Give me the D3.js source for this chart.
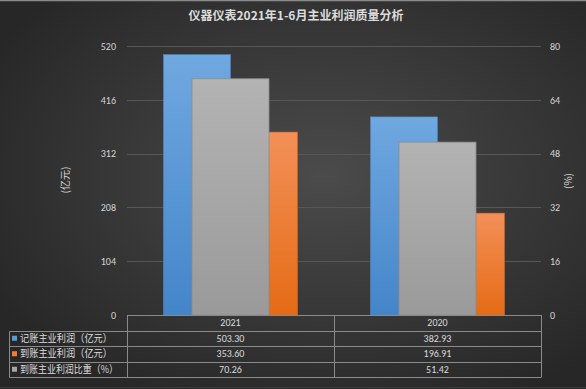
<!DOCTYPE html>
<html>
<head>
<meta charset="utf-8">
<script src="https://cdn.jsdelivr.net/npm/d3@7"></script>
<style>
  html, body { margin: 0; padding: 0; background: #2a2a2a; }
  svg { display: block; font-family: "Noto Sans CJK SC", "Noto Sans", sans-serif; }
</style>
</head>
<body>
<script>
// chart values
var title = "仪器仪表2021年1-6月主业利润质量分析";
var years = ["2021", "2020"];
var booked = [503.30, 382.93];     // 记账主业利润（亿元）
var received = [353.60, 196.91];   // 到账主业利润（亿元）
var ratio = [70.26, 51.42];        // 到账主业利润比重（%）
var leftTicks = [0, 104, 208, 312, 416, 520];
var rightTicks = [0, 16, 32, 48, 64, 80];
var seriesNames = ["记账主业利润（亿元）", "到账主业利润（亿元）", "到账主业利润比重（%）"];
var seriesColors = ["#5b9bd5", "#ed7d31", "#a5a5a5"];

var W = 586, H = 389;
var plot = { left: 127, right: 541, top: 46, bottom: 315 };

var svg = d3.select("body").append("svg")
    .attr("width", W)
    .attr("height", H);

var defs = svg.append("defs");

// background: dark with lighter middle
var bg = defs.append("radialGradient").attr("id", "bg")
    .attr("cx", "55%").attr("cy", "45%").attr("r", "65%");
bg.append("stop").attr("offset", "0%").attr("stop-color", "#4b4b4b");
bg.append("stop").attr("offset", "100%").attr("stop-color", "#272727");

function barGradient(id, top, bottom) {
    var g = defs.append("linearGradient").attr("id", id)
        .attr("x1", 0).attr("y1", 0).attr("x2", 0).attr("y2", 1);
    g.append("stop").attr("offset", "0%").attr("stop-color", top);
    g.append("stop").attr("offset", "100%").attr("stop-color", bottom);
}
barGradient("gBlue", "#70a8e0", "#4485c9");
barGradient("gOrange", "#f39058", "#e56b15");
barGradient("gGray", "#b3b3b3", "#9a9a9a");

svg.append("rect")
    .attr("width", W).attr("height", H)
    .attr("fill", "url(#bg)");
svg.append("line")
    .attr("x1", 0).attr("x2", W).attr("y1", 0.5).attr("y2", 0.5)
    .attr("stroke", "#8a8a8a").attr("stroke-width", 1.5);
svg.append("line")
    .attr("x1", 0).attr("x2", W).attr("y1", H - 1.5).attr("y2", H - 1.5)
    .attr("stroke", "#3c3c3c").attr("stroke-width", 1);

// scales
var x = d3.scaleBand().domain(years).range([plot.left, plot.right]);
var yL = d3.scaleLinear().domain([0, 520]).range([plot.bottom, plot.top]);
var yR = d3.scaleLinear().domain([0, 80]).range([plot.bottom, plot.top]);

var xPrimary = d3.scaleBand().domain(["booked", "received"])
    .range([0, x.bandwidth()]).paddingOuter(0.545);
var xSecondary = d3.scaleBand().domain(["ratio"])
    .range([0, x.bandwidth()]).paddingOuter(0.844);

// gridlines
svg.append("g")
    .selectAll("line")
    .data(leftTicks.slice(1))
    .join("line")
    .attr("x1", plot.left).attr("x2", plot.right)
    .attr("y1", function(d) { return Math.round(yL(d)) + 0.5; })
    .attr("y2", function(d) { return Math.round(yL(d)) + 0.5; })
    .attr("stroke", "#575757").attr("stroke-width", 1);

// axes
var axisL = svg.append("g")
    .attr("transform", "translate(" + (plot.left - 11) + ",0)")
    .call(d3.axisLeft(yL).tickValues(leftTicks).tickSize(0).tickPadding(0));
var axisR = svg.append("g")
    .attr("transform", "translate(" + (plot.right + 9) + ",0)")
    .call(d3.axisRight(yR).tickValues(rightTicks).tickSize(0).tickPadding(0));
[axisL, axisR].forEach(function(a) {
    a.select(".domain").remove();
    a.selectAll("text")
        .attr("fill", "#d4d4d4")
        .style("font-size", "10px")
        .style("font-family", "Carlito, 'Liberation Sans', sans-serif");
});

// primary bars
var primary = [
    { key: "booked", values: booked, fill: "url(#gBlue)", stroke: "#4a88c8" },
    { key: "received", values: received, fill: "url(#gOrange)", stroke: "#d9661a" }
];
primary.forEach(function(s) {
    svg.append("g")
        .selectAll("rect")
        .data(years)
        .join("rect")
        .attr("x", function(d) { return x(d) + xPrimary(s.key); })
        .attr("width", xPrimary.bandwidth())
        .attr("y", function(d, i) { return yL(s.values[i]); })
        .attr("height", function(d, i) { return yL(0) - yL(s.values[i]); })
        .attr("fill", s.fill)
        .attr("stroke", s.stroke).attr("stroke-width", 0.6);
});

// secondary bars, on top
svg.append("g")
    .selectAll("rect")
    .data(years)
    .join("rect")
    .attr("x", function(d) { return x(d) + xSecondary("ratio"); })
    .attr("width", xSecondary.bandwidth())
    .attr("y", function(d, i) { return yR(ratio[i]); })
    .attr("height", function(d, i) { return yR(0) - yR(ratio[i]); })
    .attr("fill", "url(#gGray)")
    .attr("stroke", "#8c8c8c").attr("stroke-width", 0.8);

// title
svg.append("text")
    .attr("x", 296).attr("y", 20)
    .attr("text-anchor", "middle")
    .attr("fill", "#dcdcdc")
    .style("font-size", "12px")
    .style("font-weight", "bold")
    .text(title);

// axis titles
svg.append("text")
    .attr("transform", "translate(69,180) rotate(-90)")
    .attr("text-anchor", "middle")
    .attr("fill", "#d4d4d4")
    .style("font-size", "10px")
    .text("(亿元)");
svg.append("text")
    .attr("transform", "translate(572,181) rotate(-90)")
    .attr("text-anchor", "middle")
    .attr("fill", "#d4d4d4")
    .style("font-size", "10px")
    .text("(%)");

// data table
var tableLeft = 9.5, rowH = 15.5;
var rowTops = [plot.bottom, plot.bottom + rowH, plot.bottom + 2 * rowH, plot.bottom + 3 * rowH];
var tableBottom = plot.bottom + 4 * rowH;
var rows = [booked, received, ratio];
var legendWidths = [92, 92, 98];
var lineColor = "#8a8a8a";
var table = svg.append("g").attr("stroke", lineColor).attr("stroke-width", 1);

// horizontal lines
table.append("line")
    .attr("x1", plot.left).attr("x2", plot.right)
    .attr("y1", rowTops[0] + 0.5).attr("y2", rowTops[0] + 0.5);
rowTops.slice(1).concat([tableBottom]).forEach(function(y) {
    table.append("line")
        .attr("x1", tableLeft).attr("x2", plot.right)
        .attr("y1", Math.round(y) + 0.5).attr("y2", Math.round(y) + 0.5);
});
// vertical lines
table.append("line")
    .attr("x1", tableLeft).attr("x2", tableLeft)
    .attr("y1", Math.round(rowTops[1]) + 0.5).attr("y2", Math.round(tableBottom) + 0.5);
[plot.left, x("2020"), plot.right].forEach(function(xv) {
    table.append("line")
        .attr("x1", Math.round(xv) + 0.5).attr("x2", Math.round(xv) + 0.5)
        .attr("y1", rowTops[0]).attr("y2", Math.round(tableBottom) + 0.5);
});

// header cells
svg.append("g")
    .selectAll("text")
    .data(years)
    .join("text")
    .attr("x", function(d) { return x(d) + x.bandwidth() / 2; })
    .attr("y", rowTops[0] + rowH / 2 + 3.5)
    .attr("text-anchor", "middle")
    .attr("fill", "#dcdcdc")
    .style("font-size", "10px")
    .style("font-family", "Carlito, 'Liberation Sans', sans-serif")
    .text(function(d) { return d; });

// value cells and legend keys
rows.forEach(function(vals, r) {
    var cy = rowTops[r + 1] + rowH / 2;
    svg.append("g")
        .selectAll("text")
        .data(years)
        .join("text")
        .attr("x", function(d) { return x(d) + x.bandwidth() / 2; })
        .attr("y", cy + 3.5)
        .attr("text-anchor", "middle")
        .attr("fill", "#dcdcdc")
        .style("font-size", "10px")
        .style("font-family", "Carlito, 'Liberation Sans', sans-serif")
        .text(function(d, i) { return vals[i].toFixed(2); });

    svg.append("rect")
        .attr("x", 12).attr("y", cy - 2.5)
        .attr("width", 5).attr("height", 5)
        .attr("fill", seriesColors[r]);
    svg.append("text")
        .attr("x", 20).attr("y", cy + 3.5)
        .attr("fill", "#dcdcdc")
        .style("font-size", "10.5px")
        .attr("textLength", legendWidths[r])
        .attr("lengthAdjust", "spacingAndGlyphs")
        .text(seriesNames[r]);
});
</script>
</body>
</html>
